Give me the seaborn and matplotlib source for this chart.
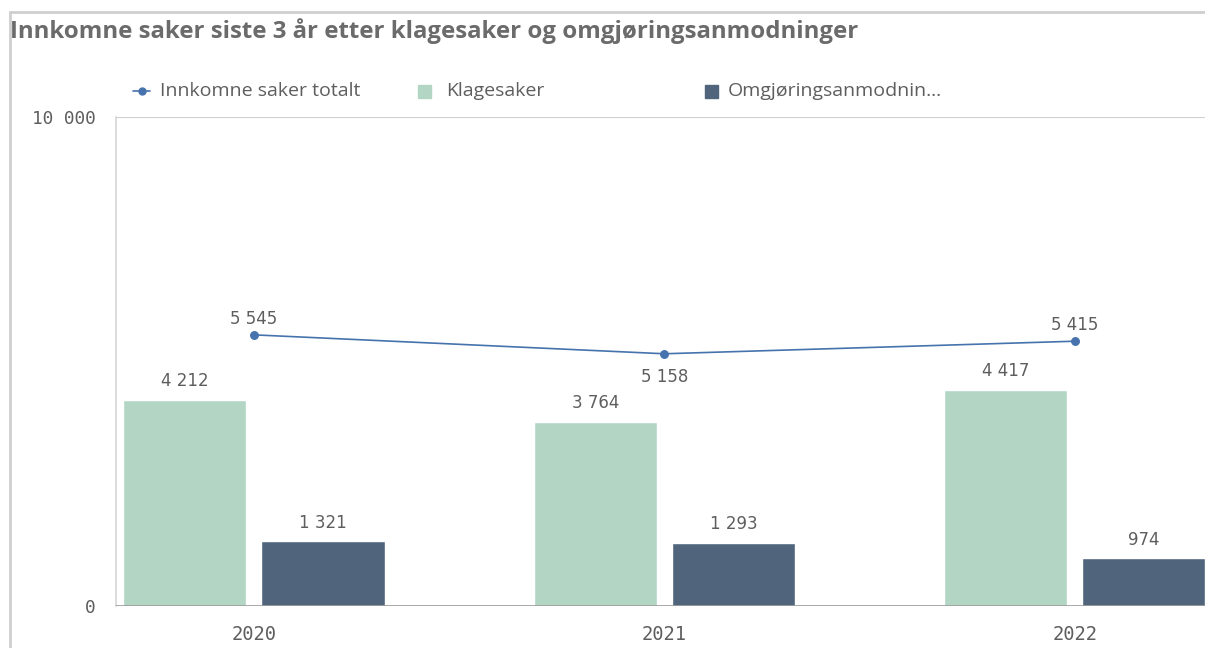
import matplotlib
matplotlib.use('Agg')
import matplotlib.pyplot as plt
from matplotlib.lines import Line2D
from matplotlib.patches import Rectangle
import pandas as pd
import seaborn as sns

# data
years = ['2020', '2021', '2022']
klagesaker = [4212, 3764, 4417]
omgjoring = [1321, 1293, 974]
totalt = [5545, 5158, 5415]
series_names = ['Klagesaker', 'Omgjøringsanmodninger']
legend_labels = ['Innkomne saker totalt', 'Klagesaker', 'Omgjøringsanmodnin...']
y_ticks = [0, 10000]

title = 'Innkomne saker siste 3 år etter klagesaker og omgjøringsanmodninger'

col_klage = '#b3d5c4'
col_omgj = '#50657c'
col_line = '#4673ad'
col_text = '#5e5e5e'
col_frame = '#cfcfcf'


def fmt(v):
    return f'{v:,}'.replace(',', ' ')


df = pd.DataFrame({
    'year': years * 2,
    'serie': [series_names[0]] * 3 + [series_names[1]] * 3,
    'value': klagesaker + omgjoring,
})

sns.set_style('white')
plt.rcParams['font.family'] = ['Open Sans', 'DejaVu Sans']

fig = plt.figure(figsize=(12.05, 6.48), dpi=100)
W, H = 1205, 648
ax = fig.add_axes([116 / W, 1 - 606 / H, 1 - 116 / W, (606 - 117) / H])

sns.barplot(data=df, x='year', y='value', hue='serie', order=years,
            hue_order=series_names, palette=[col_klage, col_omgj],
            width=0.673, gap=0.109, saturation=1, legend=False, ax=ax)

for cont, vals in zip(ax.containers, [klagesaker, omgjoring]):
    ax.bar_label(cont, labels=[fmt(v) for v in vals], padding=7,
                 fontsize=12, color=col_text, family='DejaVu Sans')

sns.pointplot(x=years, y=totalt, order=years, color=col_line,
              linewidth=1.2, markersize=5.5, ax=ax)

# labels on line points: above, below, above
for i, v in enumerate(totalt):
    above = i != 1
    ax.annotate(fmt(v), (i, v), xytext=(0, 5 if above else -10),
                textcoords='offset points', ha='center',
                va='bottom' if above else 'top', fontsize=12,
                color=col_text, family='DejaVu Sans')

ax.set_xlim(-0.336, 2.317)
ax.set_ylim(0, 10000)
ax.set_yticks(y_ticks)
ax.set_yticklabels([fmt(v) for v in y_ticks])
ax.set_xlabel('')
ax.set_ylabel('')
ax.axhline(10000, color=col_frame, lw=1.5, zorder=0)
ax.axhline(0, color='#9a9a9a', lw=1.2, zorder=5)

for s in ['top', 'right', 'bottom']:
    ax.spines[s].set_visible(False)
ax.spines['left'].set_color('#d6d6d6')
ax.spines['left'].set_linewidth(1.2)

ax.tick_params(axis='y', length=9.5, width=1, color='#c8c8c8', pad=5,
               labelsize=12.8, labelcolor=col_text)
ax.tick_params(axis='x', length=0, pad=13.5, labelsize=13.5,
               labelcolor=col_text)
for lab in ax.get_xticklabels() + ax.get_yticklabels():
    lab.set_family('DejaVu Sans Mono')

# outer frame of the sheet object
fig.add_artist(Line2D([10 / W, 1], [1 - 12 / H, 1 - 12 / H],
                      color=col_frame, lw=2))
fig.add_artist(Line2D([10 / W, 10 / W], [1 - 12 / H, 0],
                      color=col_frame, lw=2))

fig.text(10 / W, 1 - 31 / H, title, fontsize=17.3, fontweight='bold',
         color='#6b6b6b', va='center', ha='left')

# legend drawn by hand to keep Qlik spacing
ly = 1 - 91 / H
fig.add_artist(Line2D([133 / W, 141.5 / W, 150 / W], [ly, ly, ly],
                      color=col_line, lw=1.2, marker='o', markersize=5,
                      markevery=[1]))
fig.text(160 / W, ly, legend_labels[0], fontsize=14, color=col_text,
         va='center')
fig.add_artist(Rectangle((418 / W, ly - 6.5 / H), 13 / W, 13 / H,
                         color=col_klage, transform=fig.transFigure))
fig.text(446 / W, ly, legend_labels[1], fontsize=14, color=col_text,
         va='center')
fig.add_artist(Rectangle((705 / W, ly - 6.5 / H), 13 / W, 13 / H,
                         color=col_omgj, transform=fig.transFigure))
fig.text(728 / W, ly, legend_labels[2], fontsize=14, color=col_text,
         va='center')

fig.savefig('out.png', dpi=100)
